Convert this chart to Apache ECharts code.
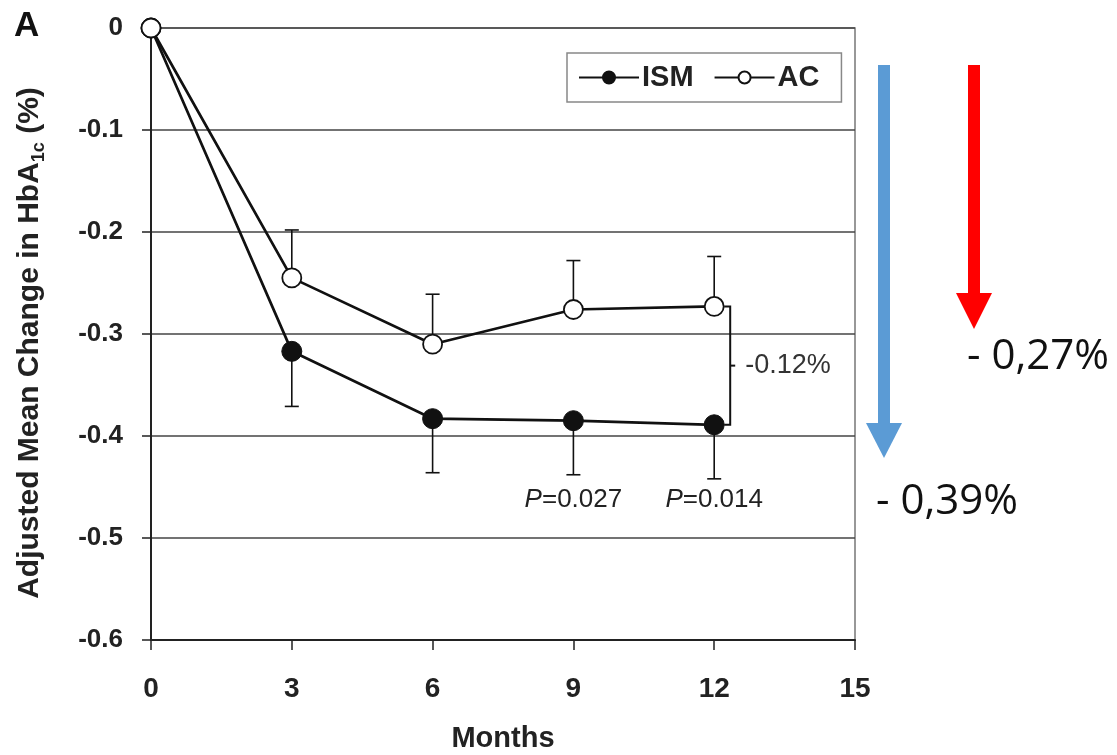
<!DOCTYPE html>
<html>
<head>
<meta charset="utf-8">
<script src="https://cdn.jsdelivr.net/npm/echarts@6/dist/echarts.min.js"></script>
<style>
html, body { margin: 0; padding: 0; background: #fff; }
#chart { width: 1117px; height: 755px; }
</style>
</head>
<body>
<div id="chart"></div>
<script>
// values
var months = [0, 3, 6, 9, 12];
var ismMean = [0, -0.317, -0.383, -0.385, -0.389];
var acMean = [0, -0.245, -0.310, -0.276, -0.273];
var ismErr = [0, 0.054, 0.053, 0.053, 0.053];   // drawn downward
var acErr = [0, 0.047, 0.049, 0.048, 0.049];    // drawn upward
var pMonths = [9, 12];
var pValues = ['0.027', '0.014'];
var diffLabel = '-0.12%';
var acTotal = '- 0,27%';
var ismTotal = '- 0,39%';

var FONT = '"Liberation Sans", Arial, sans-serif';

var chart = echarts.init(document.getElementById('chart'));

function errorBar(dir) {
  return function (params, api) {
    var x = api.value(0), y = api.value(1), e = api.value(2);
    if (!e) return;
    var p = api.coord([x, y]);
    var q = api.coord([x, y + dir * e]);
    var st = { stroke: '#111', lineWidth: 1.6 };
    return {
      type: 'group',
      children: [
        { type: 'line', shape: { x1: p[0], y1: p[1], x2: q[0], y2: q[1] }, style: st },
        { type: 'line', shape: { x1: q[0] - 7, y1: q[1], x2: q[0] + 7, y2: q[1] }, style: st }
      ]
    };
  };
}

var ismData = months.map(function (m, i) { return [m, ismMean[i]]; });
var acData = months.map(function (m, i) { return [m, acMean[i]]; });
var ismErrData = months.map(function (m, i) { return [m, ismMean[i], ismErr[i]]; });
var acErrData = months.map(function (m, i) { return [m, acMean[i], acErr[i]]; });
// P labels sit on one line just below the lowest error bar
var pLow = Math.min.apply(null, pMonths.map(function (m) {
  var i = months.indexOf(m);
  return ismMean[i] - ismErr[i];
}));
var pData = pMonths.map(function (m) { return [m, pLow]; });
var last = months.length - 1;

var option = {
  animation: false,
  grid: {
    left: 151, right: 262, top: 28, bottom: 115,
    outerBoundsMode: 'none',
    show: true, borderColor: '#777', borderWidth: 1.5
  },
  legend: {
    left: 567, top: 53,
    padding: [10, 22, 10, 11],
    itemWidth: 60, itemHeight: 15, itemGap: 20,
    borderColor: '#888', borderWidth: 1.5,
    textStyle: { fontFamily: FONT, fontWeight: 'bold', fontSize: 29, color: '#222', lineHeight: 28, padding: [0, 0, 0, -2] },
    data: ['ISM', 'AC']
  },
  xAxis: {
    type: 'value', min: 0, max: 15, interval: 3,
    name: 'Months', nameLocation: 'middle', nameGap: 84,
    nameTextStyle: { fontFamily: FONT, fontWeight: 'bold', fontSize: 29, color: '#222', lineHeight: 30 },
    axisLine: { show: true, onZero: false, lineStyle: { color: '#222', width: 2 } },
    axisTick: { show: true, length: 10, lineStyle: { color: '#222', width: 1.5 } },
    axisLabel: { margin: 35, fontFamily: FONT, fontWeight: 'bold', fontSize: 28, color: '#222' },
    splitLine: { show: false }
  },
  yAxis: {
    type: 'value', min: -0.6, max: 0, interval: 0.1,
    name: 'Adjusted Mean Change in HbA{s|1c} (%)', nameLocation: 'middle', nameGap: 103,
    nameTextStyle: {
      fontFamily: FONT, fontWeight: 'bold', fontSize: 30, color: '#222', lineHeight: 36,
      padding: [0, 18, 0, 0],
      rich: { s: { fontFamily: FONT, fontWeight: 'bold', fontSize: 18, color: '#222', verticalAlign: 'bottom', lineHeight: 36, padding: [12, 0, 0, 0] } }
    },
    axisLine: { show: true, onZero: false, lineStyle: { color: '#222', width: 2 } },
    axisTick: { show: true, length: 9, lineStyle: { color: '#222', width: 1.5 } },
    axisLabel: { margin: 28, fontFamily: FONT, fontWeight: 'bold', fontSize: 26, color: '#222' },
    splitLine: { show: true, lineStyle: { color: '#444', width: 1.5 } }
  },
  series: [
    {
      type: 'custom', name: 'ismErr', z: 1, data: ismErrData,
      encode: { x: 0, y: 1 }, renderItem: errorBar(-1), silent: true
    },
    {
      type: 'custom', name: 'acErr', z: 1, data: acErrData,
      encode: { x: 0, y: 1 }, renderItem: errorBar(1), silent: true
    },
    {
      name: 'ISM', type: 'line', z: 3, data: ismData,
      symbol: 'circle', symbolSize: 20,
      lineStyle: { color: '#111', width: 2.7 },
      itemStyle: { color: '#111', borderColor: '#111', borderWidth: 1 }
    },
    {
      name: 'AC', type: 'line', z: 4, data: acData,
      symbol: 'circle', symbolSize: 19,
      lineStyle: { color: '#111', width: 2.7 },
      itemStyle: { color: '#fff', borderColor: '#111', borderWidth: 1.8 }
    },
    {
      type: 'custom', name: 'bracket', z: 2, clip: false, silent: true,
      data: [[months[last], acMean[last], ismMean[last]]],
      encode: { x: 0, y: 1 },
      renderItem: function (params, api) {
        var a = api.coord([api.value(0), api.value(1)]);
        var b = api.coord([api.value(0), api.value(2)]);
        var bx = a[0] + 16, my = (a[1] + b[1]) / 2;
        var st = { stroke: '#111', lineWidth: 2, fill: null };
        return {
          type: 'group',
          children: [
            { type: 'polyline', shape: { points: [[bx - 6, a[1]], [bx, a[1]], [bx, b[1]], [bx - 6, b[1]]] }, style: st },
            { type: 'line', shape: { x1: bx, y1: my, x2: bx + 5, y2: my }, style: st },
            { type: 'text', style: { x: bx + 15, y: my, text: diffLabel, fill: '#333', font: '27px ' + FONT, align: 'left', verticalAlign: 'middle' } }
          ]
        };
      }
    },
    {
      type: 'custom', name: 'pvals', z: 2, clip: false, silent: true,
      data: pData, encode: { x: 0, y: 1 },
      renderItem: function (params, api) {
        var p = api.coord([api.value(0), api.value(1)]);
        return {
          type: 'text',
          style: {
            x: p[0], y: p[1] + 21,
            text: '{i|P}=' + pValues[params.dataIndex],
            fill: '#222', font: '26px ' + FONT, align: 'center', verticalAlign: 'middle',
            rich: { i: { fontStyle: 'italic', fontSize: 26, fontFamily: FONT, fill: '#222' } }
          }
        };
      }
    }
  ],
  graphic: [
    { type: 'text', left: 14, top: 9, style: { text: 'A', font: 'bold 35px ' + FONT, fill: '#111' } },
    // blue arrow (ISM)
    { type: 'rect', shape: { x: 878, y: 65, width: 12, height: 358 }, style: { fill: '#5B9BD5' } },
    { type: 'polygon', shape: { points: [[866, 423], [902, 423], [884, 458]] }, style: { fill: '#5B9BD5' } },
    // red arrow (AC)
    { type: 'rect', shape: { x: 968, y: 65, width: 12, height: 228 }, style: { fill: '#FF0000' } },
    { type: 'polygon', shape: { points: [[956, 293], [992, 293], [974, 329]] }, style: { fill: '#FF0000' } },
    { type: 'text', x: 967, y: 357, style: { text: acTotal, font: '42px "Open Sans", sans-serif', fill: '#111', verticalAlign: 'middle' } },
    { type: 'text', x: 876, y: 502, style: { text: ismTotal, font: '42px "Open Sans", sans-serif', fill: '#111', verticalAlign: 'middle' } }
  ]
};

chart.setOption(option);
</script>
</body>
</html>
